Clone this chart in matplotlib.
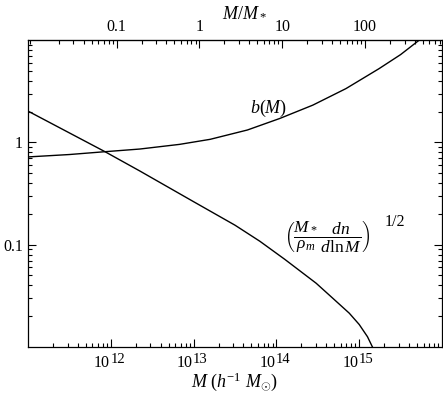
import numpy as np
import matplotlib
matplotlib.use("Agg")
import matplotlib.pyplot as plt
from matplotlib.ticker import LogLocator, NullFormatter, FixedLocator, FixedFormatter

plt.rcParams['font.family'] = ['Liberation Serif', 'DejaVu Serif']
plt.rcParams['mathtext.fontset'] = 'custom'
plt.rcParams['mathtext.rm'] = 'Liberation Serif'
plt.rcParams['mathtext.it'] = 'Liberation Serif:italic'
plt.rcParams['mathtext.bf'] = 'Liberation Serif:bold'

# --- data ---
logM_bias = [11.0, 11.5, 11.93, 12.35, 12.83, 13.2, 13.65, 14.04, 14.44, 14.84, 15.02, 15.24, 15.5, 15.72, 15.8]
bias_vals = [0.72, 0.76, 0.81, 0.86, 0.955, 1.07, 1.32, 1.71, 2.31, 3.35, 4.1, 5.25, 7.2, 9.9, 11.0]

logM_mf = [11.0, 11.93, 12.35, 13.0, 13.5, 13.8, 14.1, 14.48, 14.68, 14.88, 15.0, 15.1, 15.16, 15.22]
mf_vals = [2.02, 0.81, 0.525, 0.263, 0.155, 0.108, 0.072, 0.042, 0.030, 0.0214, 0.0166, 0.0126, 0.0100, 0.0080]

M_star = 10**13.07
xticks_bottom = [1e12, 1e13, 1e14, 1e15]
xtick_exponents = ['12', '13', '14', '15']
top_ticks = [0.1, 1, 10, 100]
top_labels = ['0.1', '1', '10', '100']
yticks = [0.1, 1]
ylabels = ['0.1', '1']

fig = plt.figure(figsize=(4.43, 3.97), dpi=100)
ax = fig.add_axes([28/443, 1 - 347/397, (442-28)/443, (347-40)/397])

ax.plot(10**np.array(logM_bias), bias_vals, color='black', lw=1.0)
ax.plot(10**np.array(logM_mf), mf_vals, color='black', lw=1.0)

ax.set_xscale('log')
ax.set_yscale('log')
ax.set_xlim(1e11, 1e16)
ax.set_ylim(0.01, 10)

ax.xaxis.set_major_locator(FixedLocator(xticks_bottom))
ax.xaxis.set_major_formatter(FixedFormatter(['', '', '', '']))
ax.xaxis.set_minor_locator(LogLocator(base=10, subs=np.arange(2, 10), numticks=50))
ax.xaxis.set_minor_formatter(NullFormatter())
ax.yaxis.set_major_locator(FixedLocator(yticks))
ax.yaxis.set_major_formatter(FixedFormatter(ylabels))
ax.yaxis.set_minor_locator(LogLocator(base=10, subs=np.arange(2, 10), numticks=50))
ax.yaxis.set_minor_formatter(NullFormatter())

ax.tick_params(which='both', direction='in', labelsize=11.5, width=0.8, colors='black')
ax.tick_params(which='major', length=6)
ax.tick_params(which='minor', length=3)
ax.tick_params(axis='y', which='both', right=True)
ax.tick_params(axis='x', which='both', top=False)

for s in ax.spines.values():
    s.set_linewidth(0.9)

# bottom tick labels: "10" with near-full-size raised exponent
for t, e in zip(xticks_bottom, xtick_exponents):
    ax.annotate('10', xy=(t, 0), xycoords=('data', 'axes fraction'),
                xytext=(-0.5, -6), textcoords='offset points',
                ha='right', va='top', fontsize=11.5)
    ax.annotate(e, xy=(t, 0), xycoords=('data', 'axes fraction'),
                xytext=(-0.3, -4.3), textcoords='offset points',
                ha='left', va='top', fontsize=10.5)

fig.text(234.5/443, 1 - 382/397, r'$M\ (h^{-1}\ M_{\odot})$', fontsize=13,
         ha='center', va='center')

# top axis M/M*
sec = ax.secondary_xaxis('top', functions=(lambda m: m / M_star, lambda r: r * M_star))
sec.xaxis.set_major_locator(FixedLocator(top_ticks))
sec.xaxis.set_major_formatter(FixedFormatter(top_labels))
sec.xaxis.set_minor_locator(LogLocator(base=10, subs=np.arange(2, 10), numticks=50))
sec.xaxis.set_minor_formatter(NullFormatter())
sec.tick_params(which='both', direction='in', labelsize=11.5, width=0.8)
sec.tick_params(which='major', length=6)
sec.tick_params(which='minor', length=3)
fig.text(244.5/443, 1 - 12.5/397, r'$M/M_*$', fontsize=13, ha='center', va='center')

ax.text(10**13.91, 2.13, r'$b(M)$', fontsize=13, ha='center', va='center')
ax.text(10**14.62, 0.122, r'$\left(\dfrac{M_*}{\rho_m}\dfrac{dn}{d\ln M}\right)$',
        fontsize=12.5, ha='center', va='center')
ax.text(10**15.43, 0.167, '1/2', fontsize=11.5, ha='center', va='center')

fig.savefig('out.png', dpi=100)
